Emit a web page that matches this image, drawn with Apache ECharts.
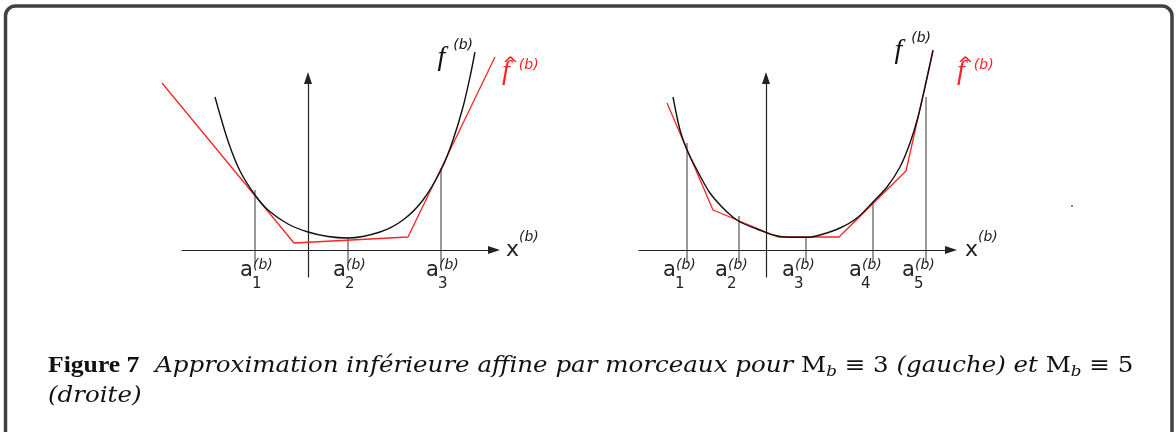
<!doctype html>
<html>
<head>
    <meta http-equiv="Content-Type" content="text/html; charset=utf-8" />
    <title>Figure 7</title>
    <script src="https://cdn.jsdelivr.net/npm/echarts@6/dist/echarts.min.js"></script>
    <style>
        html, body { margin: 0; padding: 0; background: #fff; }
        #main { width: 1176px; height: 432px; }
    </style>
</head>
<body>
<div id="main"></div>
<script type="text/javascript">
    // panneau gauche : M_b = 3
    var leftCurveX = [-9.3, -8.0, -6.8, -5.3, -4.0, -2.0, 0, 2.0, 4.0, 7.2, 9.5, 11.5, 13.4, 14.5, 15.5, 16.2, 16.7];
    var leftCurveY = [15.3, 10.9, 7.9, 5.5, 4.0, 2.6, 1.8, 1.35, 1.2, 1.8, 3.0, 5.0, 8.2, 11.0, 14.3, 17.3, 19.8];
    var leftHatX = [-14.6, -1.4, 10.0, 18.7];
    var leftHatY = [16.7, 0.7, 1.3, 19.3];
    var leftA = [-5.3, 4.0, 13.3];
    var leftATop = [6.0, 1.3, 8.2];

    // panneau droit : M_b = 5
    var rightCurveX = [-9.3, -8.6, -7.9, -6.9, -5.6, -3.9, -2.6, -0.9, 0.7, 2.4, 4.1, 5.4, 7.4, 9.1, 10.7, 12.1, 13.4, 14.4, 15.2, 15.9, 16.7];
    var rightCurveY = [15.3, 12.0, 10.0, 8.0, 5.7, 3.8, 2.8, 2.1, 1.5, 1.27, 1.27, 1.5, 2.2, 3.2, 4.8, 6.3, 8.3, 10.7, 13.3, 16.3, 20.0];
    var rightHatX = [-9.9, -5.3, 1.2, 7.3, 14.0, 16.7];
    var rightHatY = [14.7, 4.0, 1.3, 1.3, 7.9, 19.9];
    var rightA = [-7.9, -2.7, 4.0, 10.7, 16.0];
    var rightATop = [10.7, 3.4, 1.3, 4.8, 15.3];

    function zip(xs, ys) {
        return xs.map(function (x, i) { return [x, ys[i]]; });
    }

    var sans = '"DejaVu Sans"';

    // traits verticaux a_i et leurs etiquettes
    function aMarks(dx) {
        return function (params, api) {
            var a = api.value(0), top = api.value(1);
            var pTop = api.coord([a, top]);
            var p0 = api.coord([a, 0]);
            var x0 = p0[0] + dx, y0 = p0[1];
            return {
                type: 'group',
                children: [
                    { type: 'line', shape: { x1: pTop[0], y1: pTop[1], x2: pTop[0], y2: y0 + 13 },
                      style: { stroke: '#333', lineWidth: 1 } },
                    { type: 'text', x: x0, y: y0 + 21,
                      style: { text: 'a', font: '21px ' + sans, fill: '#222', align: 'left', verticalAlign: 'middle' } },
                    { type: 'text', x: x0 + 12, y: y0 + 34,
                      style: { text: String(params.dataIndex + 1), font: '15px ' + sans, fill: '#222', align: 'left', verticalAlign: 'middle' } },
                    { type: 'text', x: x0 + 13, y: y0 + 15,
                      style: { text: '(b)', font: 'italic 14px ' + sans, fill: '#222', align: 'left', verticalAlign: 'middle' } }
                ]
            };
        };
    }

    // axes visibles (fleches) ; 10 px par unite, origine (308,250) et (766,250)
    function axisPair(idx, xmin, xmax, nameGap) {
        var line = { color: '#222', width: 1.2 };
        return {
            x: {
                type: 'value', gridIndex: idx, min: xmin, max: xmax,
                axisLine: { onZero: true, symbol: ['none', 'triangle'], symbolSize: [8, 12], lineStyle: line },
                axisTick: { show: false }, axisLabel: { show: false }, splitLine: { show: false },
                name: '{x|x}{s|(b)}', nameLocation: 'end', nameGap: nameGap,
                nameTextStyle: {
                    rich: {
                        x: { fontFamily: 'DejaVu Sans', fontSize: 22, color: '#222', lineHeight: 40 },
                        s: { fontFamily: 'DejaVu Sans', fontStyle: 'italic', fontSize: 14, color: '#222', verticalAlign: 'top' }
                    }
                }
            },
            y: {
                type: 'value', gridIndex: idx, min: -2.7, max: 17.2,
                axisLine: { onZero: true, symbol: ['none', 'triangle'], symbolSize: [8, 12], lineStyle: line },
                axisTick: { show: false }, axisLabel: { show: false }, splitLine: { show: false }
            }
        };
    }

    // axes caches, meme echelle, plus larges pour ne pas couper les courbes
    function dataAxes(idx) {
        return {
            x: { type: 'value', gridIndex: idx, min: -16, max: 20, show: false, splitLine: { show: false } },
            y: { type: 'value', gridIndex: idx, min: -4, max: 22, show: false, splitLine: { show: false } }
        };
    }

    function fLabel(offset, gap) {
        return {
            show: true, formatter: '{f|f}{s|(b)}', align: 'right', verticalAlign: 'middle',
            distance: 0, offset: offset,
            rich: {
                f: { fontFamily: 'Liberation Serif', fontStyle: 'italic', fontSize: 28, color: '#111', lineHeight: 40 },
                s: { fontFamily: 'DejaVu Sans', fontStyle: 'italic', fontSize: 14, color: '#111', verticalAlign: 'top', padding: [0, 0, 0, gap] }
            }
        };
    }

    function hatLabel(offset) {
        return {
            show: true, formatter: '{h|^}\n{f|f}{s|(b)}', align: 'left', verticalAlign: 'middle',
            distance: 0, offset: offset,
            rich: {
                h: { fontFamily: 'DejaVu Sans', fontSize: 20, color: '#f22', lineHeight: 8, padding: [23, 0, 0, 0] },
                f: { fontFamily: 'Liberation Serif', fontStyle: 'italic', fontSize: 28, color: '#f22', lineHeight: 28 },
                s: { fontFamily: 'DejaVu Sans', fontStyle: 'italic', fontSize: 14, color: '#f22', verticalAlign: 'top', padding: [0, 0, 0, 9] }
            }
        };
    }

    var L = axisPair(0, -12.6, 18.6, 12);
    var R = axisPair(1, -12.7, 18.5, 14);
    var DL = dataAxes(2);
    var DR = dataAxes(3);

    var myChart = echarts.init(document.getElementById('main'));

    var option = {
        animation: false,
        grid: [
            { left: 182, top: 78, width: 312, height: 199 },
            { left: 639, top: 78, width: 312, height: 199 },
            { left: 148, top: 30, width: 360, height: 260 },
            { left: 606, top: 30, width: 360, height: 260 }
        ],
        xAxis: [L.x, R.x, DL.x, DR.x],
        yAxis: [L.y, R.y, DL.y, DR.y],
        graphic: [
            { type: 'rect', shape: { x: 5.5, y: 6, width: 1166.5, height: 460, r: 10 },
              style: { fill: 'transparent', stroke: '#404040', lineWidth: 3.5 }, z: -1 },
            { type: 'circle', shape: { cx: 1072, cy: 206, r: 1 }, style: { fill: '#555' } },
            { type: 'text', x: 48, y: 351, scaleX: 1.115, originX: 0,
              style: {
                  text: '{b|Figure 7}  {i|Approximation inférieure affine par morceaux pour }{r|M}{sub|b}{r| ≡ 3 }{i|(gauche) et }{r|M}{sub|b}{r| ≡ 5}\n{i|(droite)}',
                  fill: '#111', lineHeight: 30, font: '22px "DejaVu Serif"',
                  rich: {
                      b: { font: 'bold 23px "Liberation Serif"' },
                      i: { font: 'italic 22px "DejaVu Serif"' },
                      r: { font: '22px "DejaVu Serif"' },
                      sub: { font: 'italic 15px "DejaVu Serif"', verticalAlign: 'bottom', padding: [0, 0, 1, 0] }
                  }
              } }
        ],
        series: [
            { type: 'line', xAxisIndex: 2, yAxisIndex: 2, data: zip(leftHatX, leftHatY), symbol: 'none', clip: false,
              lineStyle: { color: '#f22', width: 1.3 }, endLabel: hatLabel([7, 11]) },
            { type: 'line', xAxisIndex: 2, yAxisIndex: 2, data: zip(leftCurveX, leftCurveY), symbol: 'none', smooth: 0.3, clip: false,
              lineStyle: { color: '#111', width: 1.4 }, endLabel: fLabel([-2, 6], 8) },
            { type: 'custom', xAxisIndex: 2, yAxisIndex: 2, coordinateSystem: 'cartesian2d', clip: false,
              data: zip(leftA, leftATop), renderItem: aMarks(-15) },

            { type: 'line', xAxisIndex: 3, yAxisIndex: 3, data: zip(rightHatX, rightHatY), symbol: 'none', clip: false,
              lineStyle: { color: '#f22', width: 1.3 }, endLabel: hatLabel([24, 17]) },
            { type: 'line', xAxisIndex: 3, yAxisIndex: 3, data: zip(rightCurveX, rightCurveY), symbol: 'none', smooth: 0.3, clip: false,
              lineStyle: { color: '#111', width: 1.4 }, endLabel: fLabel([-2, 1], 9) },
            { type: 'custom', xAxisIndex: 3, yAxisIndex: 3, coordinateSystem: 'cartesian2d', clip: false,
              data: zip(rightA, rightATop), renderItem: aMarks(-24) }
        ]
    };
    myChart.setOption(option);
</script>
</body>
</html>
